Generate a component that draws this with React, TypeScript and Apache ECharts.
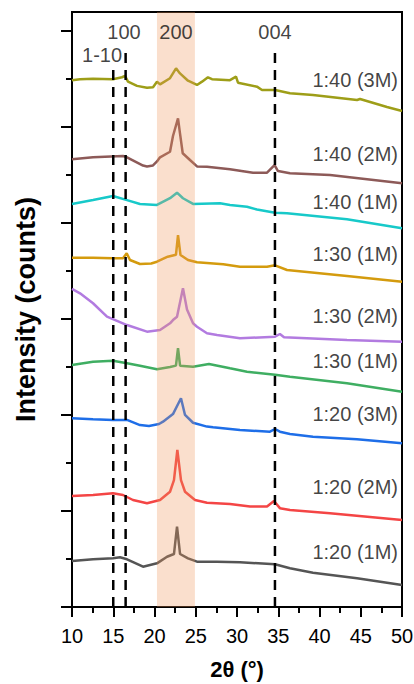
import React, { useEffect, useRef } from "react";
import * as echarts from "echarts";

const FONT = "'Liberation Sans', Arial, Helvetica, sans-serif";

// Sample names (top to bottom) and colours
const sampleNames = [
  "1:40 (3M)",
  "1:40 (2M)",
  "1:40 (1M)",
  "1:30 (1M)",
  "1:30 (2M)",
  "1:30 (1M)",
  "1:20 (3M)",
  "1:20 (2M)",
  "1:20 (1M)",
];
const sampleColors = [
  "#9e9e18",
  "#8d5a58",
  "#17c9c9",
  "#d49b0e",
  "#b27be0",
  "#3fae62",
  "#1e6ee8",
  "#f44545",
  "#555555",
];
// y (counts) where each sample name sits, at the right edge
const sampleLabelY = [549, 472, 422, 368, 303, 256, 201, 125, 57];

// Offset XRD patterns: [2θ, intensity (counts)]
const p140_3M = [
  [10, 549], [10.97, 550], [12.55, 550.5], [14.97, 550], [16.06, 552], [16.42, 553.4],
  [16.79, 547.4], [17.88, 543], [19.09, 541], [19.82, 541.5], [20.3, 547.4], [20.67, 544.6],
  [21.88, 551], [22.61, 561.3], [23.09, 556], [24.06, 548.4], [25.15, 544], [25.76, 547.4],
  [26.48, 552], [26.97, 550], [29.15, 549], [29.88, 552.6], [30.12, 546.3], [32.42, 542.2],
  [33.03, 538.8], [34.61, 538.8], [36.42, 535.3], [39.21, 533.5], [44.55, 528.3], [44.91, 529.3],
  [48.18, 521], [50, 516.8],
];
const p140_2M = [
  [10, 466.5], [12.55, 468.6], [16.18, 469.9], [16.67, 468.6], [18.61, 460], [19.09, 459.1],
  [19.82, 460.1], [20.3, 464.3], [20.67, 468.6], [21.88, 474.4], [22.24, 490.8], [22.85, 509.2],
  [23.09, 493.6], [23.42, 472.8], [24.3, 465.8], [25.15, 459.1], [26.36, 458.8], [29.15, 456.1],
  [31.94, 452.6], [33.64, 452.6], [34.55, 460.5], [34.97, 454.3], [36.42, 451.9], [41.27, 450.1],
  [50, 441.5],
];
const p140_1M = [
  [10, 420], [12.55, 424], [14.97, 428.3], [16.67, 424], [18.24, 420], [20.3, 419],
  [21.88, 426], [22.73, 431.7], [23.45, 425.9], [24.67, 420], [27.94, 420.7], [29.15, 418.9],
  [31.21, 417.1], [32.42, 414.2], [34.61, 410.9], [36.06, 410.2], [43.33, 404], [50, 394.6],
];
const p130_1M_a = [
  [10, 364], [12.55, 364], [14.97, 363.3], [16.18, 363.3], [16.63, 368.6], [17.03, 361.6],
  [18.24, 357.4], [19.6, 358], [20.3, 359.8], [21.6, 365], [22.6, 367], [22.85, 387.6],
  [23.15, 366.8], [24.06, 361.6], [25.15, 359.2], [28.33, 357.1], [30.36, 354.6], [33.64, 354.6],
  [34.61, 356], [36.06, 351.2], [43.33, 344.9], [50, 339],
];
const p130_2M = [
  [10, 331.4], [10.97, 326.9], [12.55, 316.5], [14.24, 302.5], [16.67, 293.8], [19.09, 286.9],
  [20.67, 288.6], [21.88, 295.6], [22.24, 299], [22.73, 302.5], [23.45, 332.1], [23.94, 310],
  [24.67, 295.6], [25.15, 292.1], [26.36, 285.2], [27.58, 283.4], [30.36, 280], [34.61, 281.7],
  [35.2, 284.5], [35.7, 281], [43.33, 278.2], [50, 276.4],
];
const p130_1M_b = [
  [10, 252.2], [12.55, 255.6], [14.97, 256.6], [16.67, 253.9], [18.24, 251.4], [20.3, 247.7],
  [21.88, 250], [22.6, 251.5], [22.85, 269.6], [23.1, 251.5], [24.67, 250.4], [26.6, 253.2],
  [29.15, 248.7], [31.21, 245.2], [34.61, 242], [36.42, 240], [43.33, 233.1], [50, 224.3],
];
const p120_3M = [
  [10, 196.6], [12.55, 195.6], [14.97, 194.9], [16.67, 194.9], [18.24, 189.6], [19.33, 188.6],
  [20.55, 190.7], [21.03, 193.1], [22.24, 201], [23.21, 217.5], [23.7, 200.1], [24.67, 192],
  [26.36, 188], [27.1, 187.3], [30.36, 184.4], [34, 182.7], [34.61, 185.5], [35.2, 182.7],
  [36.42, 180.3], [39.21, 177.5], [44.55, 174.7], [50, 170.6],
];
const p120_2M = [
  [10, 115.7], [12.55, 116.7], [14.97, 118.5], [16.18, 116.7], [17.39, 111.5], [19.09, 108.1],
  [20.67, 111.5], [21.88, 120.1], [22.36, 132.3], [22.77, 163.6], [23.21, 132.3], [23.7, 120.1],
  [24.91, 111.5], [26.36, 108.7], [29.15, 107.3], [31.58, 104.8], [33.64, 104.8], [34.48, 110.5],
  [35.2, 103], [36.42, 101.1], [41.27, 97.6], [50, 90.7],
];
const p120_1M = [
  [10, 47.9], [12.55, 49.7], [14.97, 50.7], [15.82, 51.8], [16.67, 49.7], [18.61, 42],
  [20.3, 45.5], [21.52, 52.4], [22.36, 55.2], [22.73, 83.7], [23.1, 55.2], [24.06, 50.7],
  [25.15, 47.2], [27.58, 47.2], [30.36, 46.6], [34.61, 44.5], [36.42, 40.3], [39.21, 35.7],
  [44.55, 29.9], [50, 22.9],
];
const patterns = [p140_3M, p140_2M, p140_1M, p130_1M_a, p130_2M, p130_1M_b, p120_3M, p120_2M, p120_1M];

// Reflection markers
const reflectionNames = ["1-10", "100", "200", "004"];
const reflectionLabelPos = [
  [13.64, 575],
  [16.3, 599],
  [22.6, 599],
  [34.6, 599],
];
// dashed lines: [2θ, top of line in counts]
const dashedLines = [
  [15.0, 561],
  [16.5, 583],
  [34.6, 581],
];
// Highlighted (200) band, 2θ range
const band = [20.3, 24.9];

// Axis ticks
const xTicksMin = 10;
const xTicksMax = 50;
const xTickStep = 5;
const yMax = 620;
const yMajorTicks = [0, 100, 200, 300, 400, 500, 600];
const yMinorTicks = [50, 150, 250, 350, 450, 550];

export default function App() {
  const ref = useRef<HTMLDivElement>(null);
  useEffect(() => {
    if (!ref.current) return;
    const chart = echarts.init(ref.current, undefined, { renderer: "svg" });

    const lineSeries = patterns.map((d, i) => ({
      type: "line",
      name: sampleNames[i],
      data: d,
      showSymbol: false,
      symbol: "none",
      smooth: false,
      z: 2,
      lineStyle: { color: sampleColors[i], width: 2.5 },
      silent: true,
    }));

    const dashSeries = dashedLines.map((l) => ({
      type: "line",
      data: [
        [l[0], 0],
        [l[0], l[1]],
      ],
      showSymbol: false,
      symbol: "none",
      z: 4,
      lineStyle: { color: "#000", width: 2.5, type: [10, 7] },
      silent: true,
    }));

    const option: any = {
      animation: false,
      backgroundColor: "#fff",
      textStyle: { fontFamily: FONT },
      grid: {
        left: 72,
        right: 12,
        top: 12,
        bottom: 77,
        outerBoundsMode: "none",
        containLabel: false,
        show: true,
        borderColor: "#000",
        borderWidth: 2,
        backgroundColor: "transparent",
      },
      xAxis: {
        type: "value",
        min: xTicksMin,
        max: xTicksMax,
        interval: xTickStep,
        axisLine: { lineStyle: { color: "#000", width: 2 } },
        axisTick: { length: 10, lineStyle: { color: "#000", width: 2 } },
        minorTick: { show: true, splitNumber: 2, length: 6, lineStyle: { color: "#000", width: 2 } },
        axisLabel: { fontSize: 20, color: "#000", margin: 19, fontFamily: FONT },
        splitLine: { show: false },
        minorSplitLine: { show: false },
        name: "2θ (°)",
        nameLocation: "middle",
        nameGap: 51,
        nameTextStyle: { fontSize: 22, fontWeight: "bold", color: "#000", fontFamily: FONT },
      },
      yAxis: [
        {
          type: "value",
          min: 0,
          max: yMax,
          position: "left",
          axisLine: { show: true, lineStyle: { color: "#000", width: 2 } },
          axisTick: { show: true, customValues: yMajorTicks, length: 11, lineStyle: { color: "#000", width: 2 } },
          axisLabel: { show: false },
          splitLine: { show: false },
          name: "Intensity (counts)",
          nameLocation: "middle",
          nameGap: 33,
          nameTextStyle: { fontSize: 27, fontWeight: "bold", color: "#000", fontFamily: FONT },
        },
        {
          type: "value",
          min: 0,
          max: yMax,
          position: "left",
          axisLine: { show: false },
          axisTick: { show: true, customValues: yMinorTicks, length: 6, lineStyle: { color: "#000", width: 2 } },
          axisLabel: { show: false },
          splitLine: { show: false },
        },
      ],
      series: [
        ...lineSeries,
        {
          type: "custom",
          z: 3,
          silent: true,
          clip: false,
          data: [band],
          encode: { x: [0, 1] },
          renderItem: (params: any, api: any) => {
            const p0 = api.coord([api.value(0), yMax]);
            const p1 = api.coord([api.value(1), 0]);
            return {
              type: "rect",
              shape: { x: p0[0], y: p0[1], width: p1[0] - p0[0], height: p1[1] - p0[1] },
              style: { fill: "rgba(240,150,90,0.3)" },
            };
          },
        },
        ...dashSeries,
        {
          type: "scatter",
          z: 5,
          silent: true,
          symbolSize: 0,
          data: sampleLabelY.map((y, i) => ({ name: sampleNames[i], value: [xTicksMax, y] })),
          label: {
            show: true,
            position: "left",
            distance: 4,
            formatter: "{b}",
            fontSize: 20,
            color: "#111",
            fontFamily: FONT,
          },
        },
        {
          type: "scatter",
          z: 5,
          silent: true,
          symbolSize: 0,
          data: reflectionLabelPos.map((p, i) => ({ name: reflectionNames[i], value: p })),
          label: {
            show: true,
            position: "inside",
            formatter: "{b}",
            fontSize: 20,
            color: "#111",
            fontFamily: FONT,
          },
        },
      ],
    };
    chart.setOption(option);
    return () => chart.dispose();
  }, []);
  return (
    <div
      ref={ref}
      style={{ position: "absolute", left: 0, top: 0, width: 414, height: 684 }}
    />
  );
}
